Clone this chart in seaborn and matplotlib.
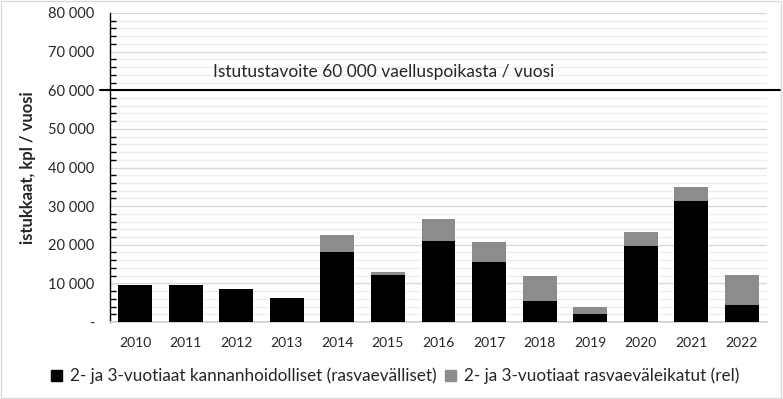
import numpy as np
import pandas as pd
import matplotlib.pyplot as plt
import seaborn as sns
from matplotlib.patches import Patch, Rectangle
from matplotlib.ticker import MultipleLocator, FuncFormatter

# data
vuodet = ['2010', '2011', '2012', '2013', '2014', '2015', '2016',
          '2017', '2018', '2019', '2020', '2021', '2022']
kannanhoidolliset = [9500, 9500, 8500, 6100, 18100, 12200, 21000,
                     15500, 5400, 2100, 19700, 31300, 4400]
rasvaeväleikatut = [0, 0, 0, 0, 4400, 800, 5700,
                    5200, 6500, 1800, 3600, 3600, 7800]
tavoite = 60000

df = pd.DataFrame({'vuosi': vuodet,
                   'musta': kannanhoidolliset,
                   'harmaa': rasvaeväleikatut})
df['yhteensa'] = df['musta'] + df['harmaa']

sns.set_theme(style='white')
plt.rcParams['font.family'] = ['Lato', 'DejaVu Sans']

fig = plt.figure(figsize=(7.83, 3.99), dpi=100)
ax = fig.add_axes([110 / 783, 1 - 322 / 399, 657 / 783, 309 / 399])

# pinottu pylväs: harmaa koko korkeus, musta päälle
sns.barplot(data=df, x='vuosi', y='yhteensa', color='#8c8c8c', saturation=1,
            width=0.67, ax=ax, zorder=3, linewidth=0)
sns.barplot(data=df, x='vuosi', y='musta', color='black', saturation=1,
            width=0.67, ax=ax, zorder=4, linewidth=0)

ax.set_ylim(0, 80000)
ax.set_xlim(-0.5, len(vuodet) - 0.5)
ax.yaxis.set_major_locator(MultipleLocator(10000))
ax.yaxis.set_minor_locator(MultipleLocator(2000))
ax.yaxis.set_major_formatter(FuncFormatter(
    lambda v, p: '-' if v == 0 else f'{int(v):,}'.replace(',', ' ')))
ax.grid(axis='y', which='major', color='#d9d9d9', lw=1, zorder=0)
ax.grid(axis='y', which='minor', color='#efefef', lw=1, zorder=0)
ax.set_axisbelow(True)

for s in ['top', 'right']:
    ax.spines[s].set_visible(False)
ax.spines['left'].set_color('black')
ax.spines['left'].set_linewidth(1)
ax.spines['bottom'].set_color('#d0d0d0')
ax.tick_params(axis='y', which='major', direction='inout', length=8,
               width=1, color='black', labelsize=10.5, pad=7)
ax.tick_params(axis='y', which='minor', direction='in', length=4.5,
               width=1, color='black', left=True)
ax.tick_params(axis='x', length=0, labelsize=10, pad=11)

ax.set_xlabel('')
ax.set_ylabel('istukkaat, kpl / vuosi', fontsize=12, fontweight='bold', labelpad=9)

# tavoiteviiva
ax.axhline(tavoite, xmin=-0.015, xmax=1.02, color='black', lw=1.5,
           clip_on=False, zorder=5)
ax.text(0.157, 64800, f'Istutustavoite {tavoite:,} vaelluspoikasta / vuosi'.replace(',', ' '),
        transform=ax.get_yaxis_transform(), fontsize=12.5, va='center', ha='left')

handles = [Patch(color='black'), Patch(color='#8c8c8c')]
labels = ['2- ja 3-vuotiaat kannanhoidolliset (rasvaevälliset)',
          '2- ja 3-vuotiaat rasvaeväleikatut (rel)']
fig.legend(handles, labels, loc='center', bbox_to_anchor=(0.505, 1 - 376 / 399),
           ncol=2, frameon=False, fontsize=12.3, handlelength=0.6,
           handleheight=0.6, handletextpad=0.5, columnspacing=0.5)

fig.patches.append(Rectangle((0.001, 0.002), 0.997, 0.995, transform=fig.transFigure,
                             fill=False, edgecolor='#d9d9d9', lw=1))

plt.savefig('out.png', dpi=100)
